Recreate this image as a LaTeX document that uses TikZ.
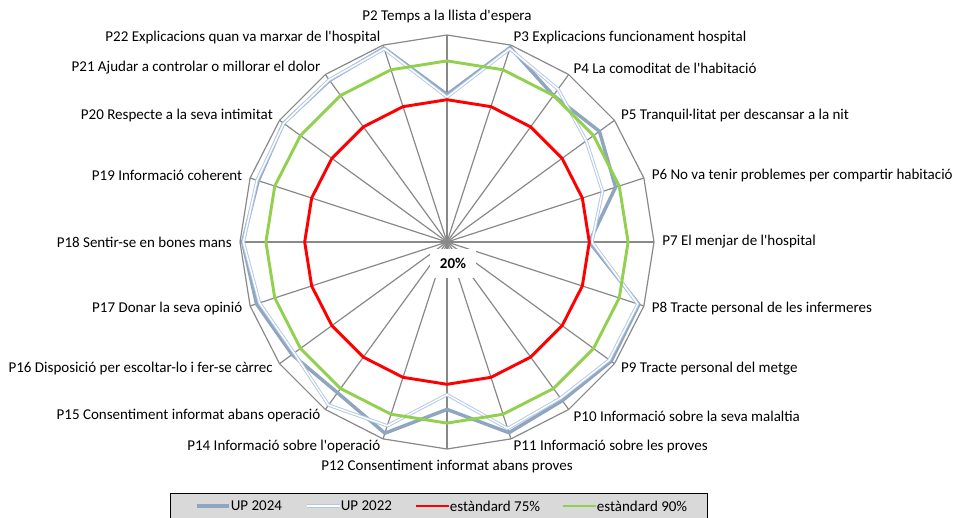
\documentclass[tikz,border=0pt]{standalone}
\usepackage{fontspec}
\setmainfont{Carlito}
\definecolor{gridgray}{HTML}{898989}
\definecolor{up24}{HTML}{8EA6C0}
\definecolor{up22}{HTML}{B4C8E6}
\definecolor{std75}{HTML}{FF0000}
\definecolor{std90}{HTML}{92D050}
\definecolor{legendfill}{HTML}{D9D9D9}
\def\rest{3,4,5,6,7,8,9,10,11,12,14,15,16,17,18,19,20,21,22}
\def\q{\textquotesingle}
\begin{document}
\begin{tikzpicture}[x=0.75pt, y=0.75pt]
    \tikzstyle{every node}=[inner sep=0pt, font=\fontsize{11.25}{13}\selectfont, text=black]
    \tikzstyle{grid}=[gridgray, line width=0.9pt]
    \tikzstyle{line24}=[up24, line width=2.6pt, line join=round]
    \tikzstyle{line22}=[up22, line width=0.7pt, double=white, double distance=1.1pt, line join=round]
    \tikzstyle{line75}=[std75, line width=2.2pt, line join=round]
    \tikzstyle{line90}=[std90, line width=2.2pt, line join=round]

    \useasboundingbox (-447,-275) rectangle (508,242);
    \coordinate (c) at (0,0);

    \foreach \nr/\ang/\ud/\ue in {2/90/77/76, 3/72/99/98.5, 4/54/90/93, 5/36/92.8/86.5, 6/18/88.5/83.2, 7/0/75/76, 8/-18/98/97.5, 9/-36/98.4/97.5, 10/-54/95.8/94.6, 11/-72/97.5/95.8, 12/-90/84.7/79, 14/-108/97.7/94.7, 15/-126/92/97.9, 16/-144/94/93, 17/-162/97.4/96.2, 18/180/99/98.7, 19/162/96.7/97.2, 20/144/98.1/98, 21/126/97.2/97.5, 22/108/98.8/98.5} {
        \coordinate (a\nr) at (\ang:207);
        \coordinate (u\nr) at (\ang:{(\ud-20)*2.5875});
        \coordinate (v\nr) at (\ang:{(\ue-20)*2.5875});
    }

    \draw[grid] (c) -- (a2);
    \foreach \nr in \rest \draw[grid] (c) -- (a\nr);
    \draw[grid] (a2) \foreach \nr in \rest {-- (a\nr)} -- cycle;

    \draw[line24] (u2) \foreach \nr in \rest {-- (u\nr)} -- cycle;
    \draw[line22] (v2) \foreach \nr in \rest {-- (v\nr)} -- cycle;
    \draw[line75] (90:142.3) \foreach \ang in {72,54,...,-252} {-- (\ang:142.3)} -- cycle;
    \draw[line90] (90:181.1) \foreach \ang in {72,54,...,-252} {-- (\ang:181.1)} -- cycle;

    \node[fill=white, font=\fontsize{11.25}{13}\selectfont\bfseries, minimum width=34pt, minimum height=22pt] (base) at (6,-21.5) {20\%};

    \foreach \nr/\ang/\rad/\anc/\txt in {2/90/219/south/Temps a la llista d\q espera, 3/72/215/west/Explicacions funcionament hospital, 4/54/215/west/La comoditat de l\q habitació, 5/36/215/west/Tranquil·litat per descansar a la nit, 6/18/215/west/No va tenir problemes per compartir habitació, 7/0/215/west/El menjar de l\q hospital, 8/-18/215/west/Tracte personal de les infermeres, 9/-36/215/west/Tracte personal del metge, 10/-54/215/west/Informació sobre la seva malaltia, 11/-72/215/west/Informació sobre les proves, 12/-90/218/north/Consentiment informat abans proves, 14/-108/215/east/Informació sobre l\q operació, 15/-126/215/east/Consentiment informat abans operació, 16/-144/215/east/Disposició per escoltar-lo i fer-se càrrec, 17/-162/215/east/Donar la seva opinió, 18/180/215/east/Sentir-se en bones mans, 19/162/215/east/Informació coherent, 20/144/215/east/Respecte a la seva intimitat, 21/126/215/east/Ajudar a controlar o millorar el dolor, 22/108/215/east/Explicacions quan va marxar de l\q hospital}
        \node[anchor=\anc] (l\nr) at (\ang:\rad) {P\nr\ \txt};

    \draw[fill=legendfill, draw=black, line width=0.75pt] (-276.3,-251) rectangle (260,-285);
    \foreach \x/\sty/\txt [count=\i] in {-250/line24/UP 2024, -140/line22/UP 2022, -31/line75/estàndard 75\%, 116/line90/estàndard 90\%} {
        \coordinate (s\i) at (\x,-264);
        \coordinate (e\i) at (\x+32.5,-264);
        \draw[\sty] (s\i) -- (e\i);
        \node[anchor=west] (leg\i) at ([xshift=0.8pt] e\i) {\txt};
    }
\end{tikzpicture}
\end{document}
